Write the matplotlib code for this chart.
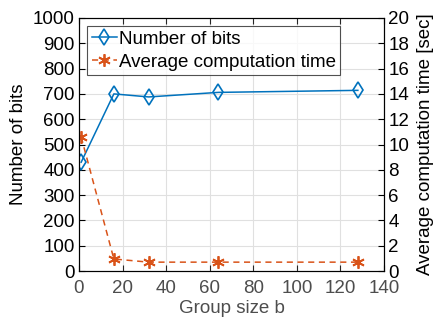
import numpy as np
import matplotlib
matplotlib.use("Agg")
import matplotlib.pyplot as plt

plt.rcParams['font.family'] = ['Liberation Sans', 'DejaVu Sans']
plt.rcParams['font.size'] = 13.5

group_size = [1, 16, 32, 64, 128]
num_bits = [430, 700, 688, 706, 714]
comp_time = [10.6, 0.95, 0.7, 0.7, 0.7]

blue = '#0072BD'
orange = '#D95319'
axgrey = '#262626'

fig = plt.figure(figsize=(4.34, 3.23), dpi=100)
ax = fig.add_axes([79/434, 1 - 271/323, (384-79)/434, (271-18)/323])
ax2 = ax.twinx()

l1, = ax.plot(group_size, num_bits, color=blue, marker='d', markersize=8,
              markerfacecolor='none', markeredgewidth=1.2, linewidth=1.1,
              label='Number of bits')
l2, = ax2.plot(group_size, comp_time, color=orange, marker=(6, 2, 0), markersize=9,
               markeredgewidth=1.3, linestyle='--', dashes=(4, 3), linewidth=1.1,
               label='Average computation time')

ax.set_xlim(0, 140)
ax.set_ylim(0, 1000)
ax2.set_ylim(0, 20)
ax.set_xticks(np.arange(0, 141, 20))
ax.set_yticks(np.arange(0, 1001, 100))
ax2.set_yticks(np.arange(0, 21, 2))

ax.grid(True, color='#e0e0e0', linewidth=0.8)
ax.set_axisbelow(True)

ax.tick_params(axis='x', direction='in', colors=axgrey, labelcolor='#4d4d4d',
               top=True, length=4, pad=6.5)
ax.tick_params(axis='y', direction='in', colors='black', length=4, pad=3)
ax2.tick_params(axis='y', direction='in', colors='black', length=4, pad=3)
for s in ['top', 'bottom']:
    ax.spines[s].set_color(axgrey)
ax.spines['left'].set_color('black')
ax2.spines['right'].set_color('black')

ax.set_xlabel('Group size b', color='#4d4d4d')
ax.set_ylabel('Number of bits')
ax2.set_ylabel('Average computation time [sec]')
ax.xaxis.set_label_coords(0.5, -0.115)
ax.yaxis.set_label_coords(-0.17, 0.5)
ax2.yaxis.set_label_coords(1.108, 0.5)

leg = ax2.legend(handles=[l1, l2], loc='upper left',
                 bbox_to_anchor=(0.026, 0.968), frameon=True, fancybox=False,
                 edgecolor=axgrey, handlelength=1.35, handletextpad=0.1,
                 borderpad=0.25, labelspacing=0.3, borderaxespad=0)
leg.get_frame().set_linewidth(0.8)

fig.savefig('out.png', dpi=100)
